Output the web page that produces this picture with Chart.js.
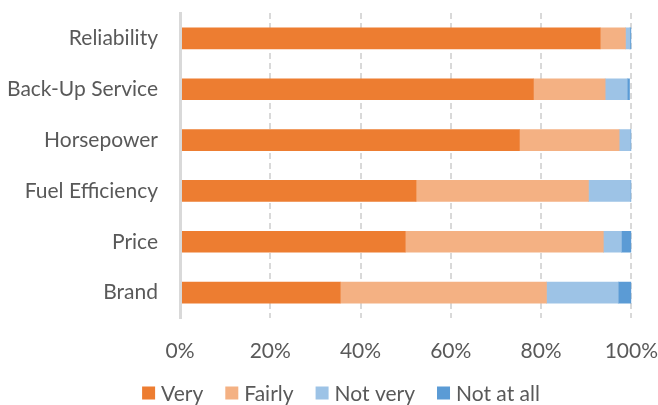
<!DOCTYPE html>
<html><head><meta charset="utf-8">
<script src="https://cdn.jsdelivr.net/npm/chart.js@4"></script>
<style>html,body{margin:0;padding:0;background:#fff}#w{width:658px;height:405px}</style>
</head><body><div id="w"><canvas id="c"></canvas></div>
<script>
const categories = ["Reliability","Back-Up Service","Horsepower","Fuel Efficiency","Price","Brand"];
const seriesNames = ["Very","Fairly","Not very","Not at all"];
const very = [93.1, 78.3, 75.2, 52.3, 49.9, 35.5];
const fairly = [5.6, 15.9, 22.1, 38.2, 43.9, 45.7];
const notVery = [1.0, 4.9, 2.5, 9.3, 4.0, 15.9];
const notAtAll = [0.3, 0.5, 0.2, 0.2, 2.2, 2.9];
const xTicks = [0,20,40,60,80,100];
const colors = ["#ED7D31","#F4B183","#9DC3E6","#5B9BD5"];
const values = [very, fairly, notVery, notAtAll];
const FONT = "Lato, 'Open Sans', sans-serif";
const TXT = "#595959";
Chart.defaults.font.family = FONT;
Chart.defaults.color = TXT;

const customLegend = {
  id: 'customLegend',
  afterDraw(chart) {
    const ctx = chart.ctx;
    ctx.save();
    ctx.font = "21px " + FONT;
    const box = 13, gapText = 6, gapItem = 22;
    const widths = seriesNames.map(n => ctx.measureText(n).width);
    const total = widths.reduce((a,b)=>a+b,0) + seriesNames.length*(box+gapText) + (seriesNames.length-1)*gapItem;
    let x = chart.width/2 + 12 - total/2;
    const y = chart.chartArea.bottom + 75;
    ctx.textBaseline = 'middle';
    ctx.textAlign = 'left';
    seriesNames.forEach((n,i) => {
      ctx.fillStyle = colors[i];
      ctx.fillRect(x, y - box/2, box, box);
      x += box + gapText;
      ctx.fillStyle = TXT;
      ctx.fillText(n, x, y + 1);
      x += widths[i] + gapItem;
    });
    ctx.restore();
  }
};

new Chart(document.getElementById('c'), {
  type: 'bar',
  data: {
    labels: categories,
    datasets: seriesNames.map((n,i)=>({label:n,data:values[i],backgroundColor:colors[i],borderWidth:0,barThickness:21}))
  },
  options: {
    indexAxis: 'y',
    responsive: true, maintainAspectRatio: false, animation: false,
    layout: {padding: {top: 13, right: 2, left: 8, bottom: 0}},
    plugins: {
      tooltip: {enabled: false},
      legend: {display: false}
    },
    scales: {
      x: {stacked: true, min: 0, max: 100,
        afterBuildTicks: s => { s.ticks = xTicks.map(v=>({value:v})); },
        afterFit: s => { s.height = 87; },
        ticks: {callback: v => v + '%', font: {size: 21}, padding: 0},
        grid: {color: '#d9d9d9', lineWidth: 2, drawTicks: true, tickLength: 21, tickColor: 'rgba(0,0,0,0)'},
        border: {display: false, dash: [6,4]}
      },
      y: {stacked: true,
        afterFit: s => { s.width = 172; },
        ticks: {font: {size: 21}, padding: 0},
        grid: {display: false, drawTicks: true, tickLength: 22},
        border: {display: true, color: '#d9d9d9', width: 3, z: 1}
      }
    }
  },
  plugins: [customLegend]
});
</script></body></html>
